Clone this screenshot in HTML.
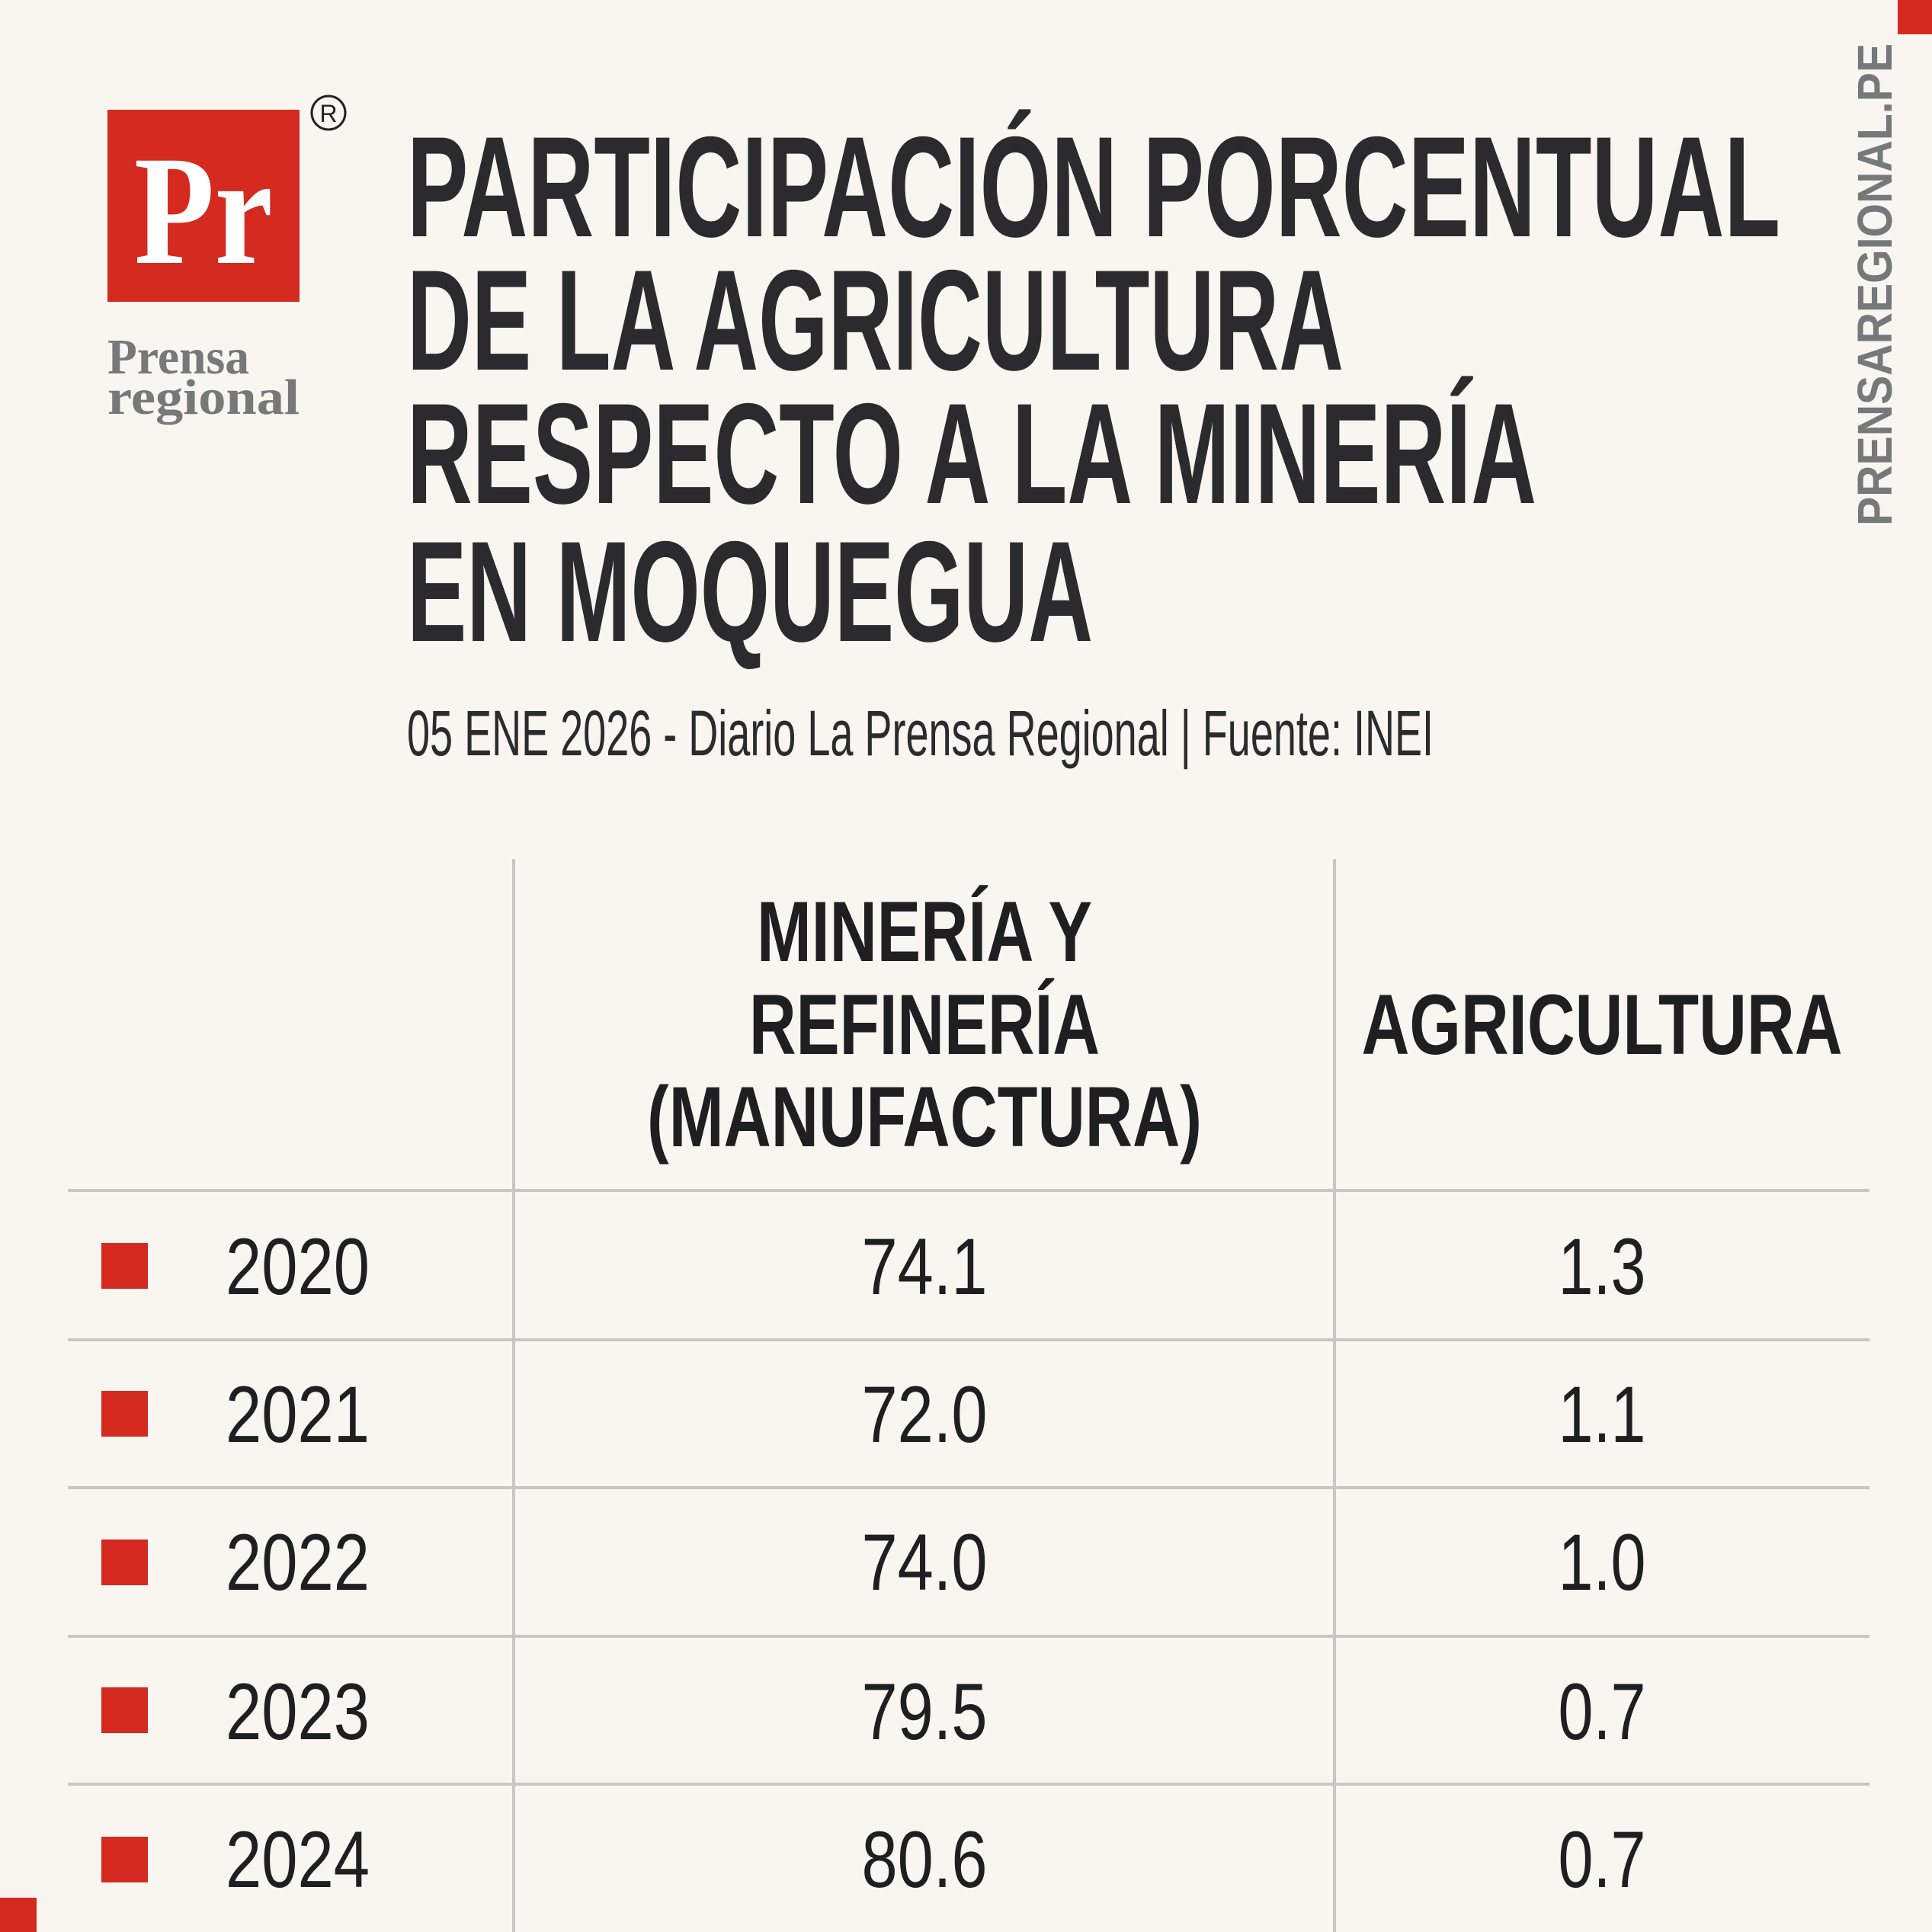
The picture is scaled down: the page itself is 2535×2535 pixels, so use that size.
<!DOCTYPE html>
<html><head><meta charset="utf-8"><style>
html,body{margin:0;padding:0;background:#f9f6f1;}
svg{display:block}
</style></head><body>
<svg width="2535" height="2535" viewBox="0 0 2535 2535" xmlns="http://www.w3.org/2000/svg">
<rect width="2535" height="2535" fill="#f9f6f1"/>
<rect x="2490" y="0" width="45" height="45" fill="#d42a20"/>
<rect x="0" y="2490" width="48" height="45" fill="#d42a20"/>
<!-- logo -->
<rect x="141" y="144" width="252" height="252" fill="#d42a20"/>
<text x="176" y="345" font-family="Liberation Serif, serif" font-weight="bold" font-size="205" fill="#fff" textLength="182" lengthAdjust="spacingAndGlyphs">Pr</text>
<circle cx="431" cy="148" r="22" fill="none" stroke="#222" stroke-width="3"/>
<text x="431" y="160" font-family="Liberation Sans, sans-serif" font-size="32" fill="#222" text-anchor="middle">R</text>
<text x="141" y="490" font-family="Liberation Serif, serif" font-weight="bold" font-size="66" fill="#77787a" textLength="186" lengthAdjust="spacingAndGlyphs">Prensa</text>
<text x="141" y="543" font-family="Liberation Serif, serif" font-weight="bold" font-size="66" fill="#77787a" textLength="252" lengthAdjust="spacingAndGlyphs">regional</text>
<!-- title -->
<g font-family="Liberation Sans, sans-serif" font-weight="bold" font-size="188" fill="#2b2b2d">
<text x="534" y="310" textLength="1802" lengthAdjust="spacingAndGlyphs">PARTICIPACIÓN PORCENTUAL</text>
<text x="534" y="485" textLength="1229" lengthAdjust="spacingAndGlyphs">DE LA AGRICULTURA</text>
<text x="534" y="660" textLength="1482" lengthAdjust="spacingAndGlyphs">RESPECTO A LA MINERÍA</text>
<text x="534" y="841" textLength="900" lengthAdjust="spacingAndGlyphs">EN MOQUEGUA</text>
</g>
<text x="534" y="991" font-family="Liberation Sans, sans-serif" font-size="84" fill="#2b2b2d" textLength="1347" lengthAdjust="spacingAndGlyphs">05 ENE 2026 - Diario La Prensa Regional | Fuente: INEI</text>
<text transform="translate(2482,690) rotate(-90)" font-family="Liberation Sans, sans-serif" font-weight="bold" font-size="64" fill="#77787a" textLength="633" lengthAdjust="spacingAndGlyphs">PRENSAREGIONAL.PE</text>
<!-- table lines -->
<g stroke="#c9c7c3" stroke-width="4">
<line x1="674" y1="1127" x2="674" y2="2535"/>
<line x1="1751" y1="1127" x2="1751" y2="2535"/>
<line x1="89" y1="1562" x2="2453" y2="1562"/>
<line x1="89" y1="1758" x2="2453" y2="1758"/>
<line x1="89" y1="1952" x2="2453" y2="1952"/>
<line x1="89" y1="2147" x2="2453" y2="2147"/>
<line x1="89" y1="2341" x2="2453" y2="2341"/>
</g>
<g font-family="Liberation Sans, sans-serif" font-weight="bold" font-size="112" fill="#1f1f21" text-anchor="middle">
<text x="1213" y="1261" textLength="440" lengthAdjust="spacingAndGlyphs">MINERÍA Y</text>
<text x="1213" y="1383" textLength="460" lengthAdjust="spacingAndGlyphs">REFINERÍA</text>
<text x="1213" y="1504" textLength="728" lengthAdjust="spacingAndGlyphs">(MANUFACTURA)</text>
<text x="2102" y="1383" textLength="631" lengthAdjust="spacingAndGlyphs">AGRICULTURA</text>
</g>
<g fill="#d42a20">
<rect x="133" y="1631" width="61" height="60"/>
<rect x="133" y="1825" width="61" height="60"/>
<rect x="133" y="2020" width="61" height="60"/>
<rect x="133" y="2214" width="61" height="60"/>
<rect x="133" y="2410" width="61" height="60"/>
</g>
<g font-family="Liberation Sans, sans-serif" font-size="105" fill="#1f1f21">
<text x="296" y="1698" textLength="189" lengthAdjust="spacingAndGlyphs">2020</text>
<text x="296" y="1892" textLength="189" lengthAdjust="spacingAndGlyphs">2021</text>
<text x="296" y="2086" textLength="189" lengthAdjust="spacingAndGlyphs">2022</text>
<text x="296" y="2282" textLength="189" lengthAdjust="spacingAndGlyphs">2023</text>
<text x="296" y="2476" textLength="189" lengthAdjust="spacingAndGlyphs">2024</text>
</g>
<g font-family="Liberation Sans, sans-serif" font-size="105" fill="#1f1f21" text-anchor="middle">
<text x="1213" y="1698" textLength="165" lengthAdjust="spacingAndGlyphs">74.1</text>
<text x="1213" y="1892" textLength="165" lengthAdjust="spacingAndGlyphs">72.0</text>
<text x="1213" y="2086" textLength="165" lengthAdjust="spacingAndGlyphs">74.0</text>
<text x="1213" y="2282" textLength="165" lengthAdjust="spacingAndGlyphs">79.5</text>
<text x="1213" y="2476" textLength="165" lengthAdjust="spacingAndGlyphs">80.6</text>
<text x="2102" y="1698" textLength="115" lengthAdjust="spacingAndGlyphs">1.3</text>
<text x="2102" y="1892" textLength="115" lengthAdjust="spacingAndGlyphs">1.1</text>
<text x="2102" y="2086" textLength="115" lengthAdjust="spacingAndGlyphs">1.0</text>
<text x="2102" y="2282" textLength="115" lengthAdjust="spacingAndGlyphs">0.7</text>
<text x="2102" y="2476" textLength="115" lengthAdjust="spacingAndGlyphs">0.7</text>
</g>
</svg>
</body></html>
